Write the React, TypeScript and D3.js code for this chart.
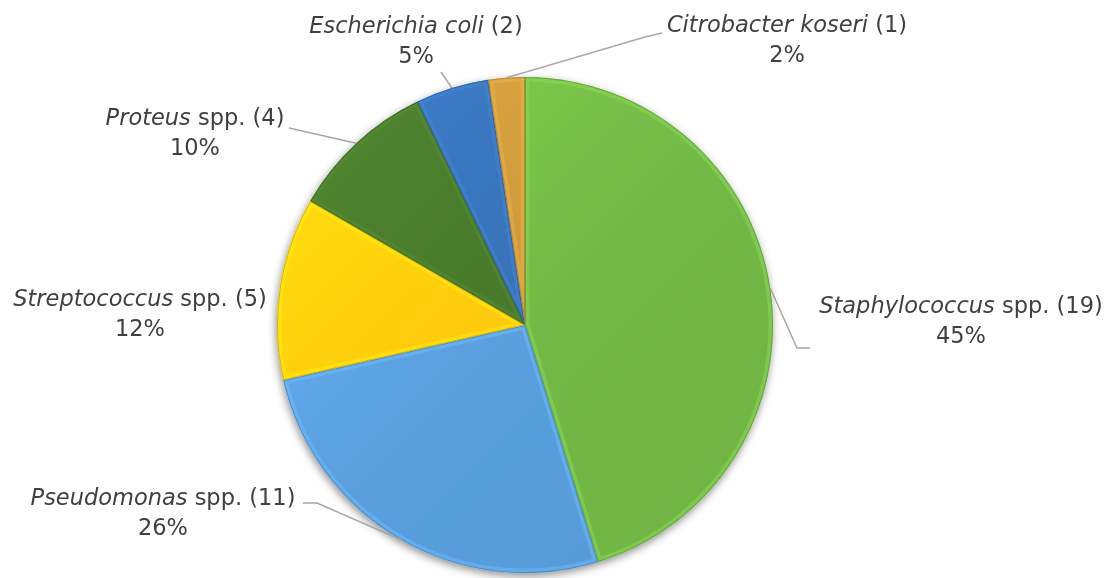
import React from 'react';
import * as d3 from 'd3';

// ---- data ----
const species = ['Staphylococcus', 'Pseudomonas', 'Streptococcus', 'Proteus', 'Escherichia coli', 'Citrobacter koseri'];
const suffixes = [' spp.', ' spp.', ' spp.', ' spp.', '', ''];
const counts = [19, 11, 5, 4, 2, 1];

// ---- styles / layout ----
const colors = ['#73B946', '#5A9EDD', '#FFC70D', '#47772A', '#3670B5', '#C8963A'];
const labelAnchors: [number, number][] = [[961, 313], [163, 505], [140, 306], [195, 125], [416, 33], [787, 32]];
const leaderBends: [number, number][][] = [
  [[797, 348], [810, 348]],
  [[317, 503], [303, 503]],
  [],
  [[289, 128]],
  [[441, 72]],
  [[645, 37], [662, 33]],
];

const W = 1113;
const H = 578;
const CX = 525;
const CY = 325;
const R = 248;
const FONT = '"DejaVu Sans", sans-serif';
const FS = 22.5;
const LINE = 30;

export default function App() {
  const total = d3.sum(counts);
  const pie = d3.pie<number>().sort(null).value((d) => d);
  const arcs = pie(counts);
  const arcGen = d3.arc<d3.PieArcDatum<number>>().innerRadius(0).outerRadius(R);
  const edgeGen = d3.arc<d3.PieArcDatum<number>>().innerRadius(R).outerRadius(R);
  const pct = d3.format('.0%');

  return (
    <svg width={W} height={H} style={{ position: 'absolute', left: 0, top: 0, background: '#fff' }}>
      <defs>
        <filter id="shadow" x="-20%" y="-20%" width="140%" height="140%">
          <feGaussianBlur in="SourceAlpha" stdDeviation="4" />
          <feOffset dx="-1" dy="3" result="b" />
          <feComponentTransfer>
            <feFuncA type="linear" slope="0.45" />
          </feComponentTransfer>
          <feMerge>
            <feMergeNode />
            <feMergeNode in="SourceGraphic" />
          </feMerge>
        </filter>
        {arcs.map((a, i) => {
          const c = d3.color(colors[i])!;
          return (
            <linearGradient
              key={'g' + i}
              id={'grad' + i}
              gradientUnits="userSpaceOnUse"
              x1={-R * 0.8}
              y1={-R * 0.8}
              x2={R * 0.8}
              y2={R * 0.8}
            >
              <stop offset="0" stopColor={c.brighter(0.3).formatHex()} />
              <stop offset="0.5" stopColor={colors[i]} />
              <stop offset="1" stopColor={c.darker(0.08).formatHex()} />
            </linearGradient>
          );
        })}
        {arcs.map((a, i) => (
          <clipPath key={'c' + i} id={'clip' + i}>
            <path d={arcGen(a)!} transform={`translate(${CX},${CY})`} />
          </clipPath>
        ))}
      </defs>

      <g filter="url(#shadow)">
        {arcs.map((a, i) => (
          <path key={'s' + i} d={arcGen(a)!} transform={`translate(${CX},${CY})`} fill={`url(#grad${i})`} />
        ))}
      </g>
      {arcs.map((a, i) => {
        const c = d3.color(colors[i])!;
        return (
          <g key={'b' + i} clipPath={`url(#clip${i})`}>
            <path
              d={arcGen(a)!}
              transform={`translate(${CX},${CY})`}
              fill="none"
              stroke={c.brighter(0.5).formatHex()}
              strokeOpacity={0.5}
              strokeWidth={9}
              strokeLinejoin="round"
            />
            <path
              d={arcGen(a)!}
              transform={`translate(${CX},${CY})`}
              fill="none"
              stroke={c.darker(0.9).formatHex()}
              strokeOpacity={0.55}
              strokeWidth={2}
            />
          </g>
        );
      })}

      {arcs.map((a, i) => {
        const bends = leaderBends[i];
        if (!bends.length) return null;
        const [ex, ey] = edgeGen.centroid(a);
        const pts: [number, number][] = [[CX + ex, CY + ey], ...bends];
        return (
          <path
            key={'l' + i}
            d={d3.line()(pts)!}
            fill="none"
            stroke="#A6A6A6"
            strokeWidth={1.5}
          />
        );
      })}

      {arcs.map((a, i) => {
        const [lx, ly] = labelAnchors[i];
        return (
          <g key={'t' + i} fontFamily={FONT} fontSize={FS} fill="#404040" textAnchor="middle">
            <text x={lx} y={ly}>
              <tspan fontStyle="italic">{species[i]}</tspan>
              <tspan>{suffixes[i] + ' (' + counts[i] + ')'}</tspan>
            </text>
            <text x={lx} y={ly + LINE}>{pct(counts[i] / total)}</text>
          </g>
        );
      })}
    </svg>
  );
}
